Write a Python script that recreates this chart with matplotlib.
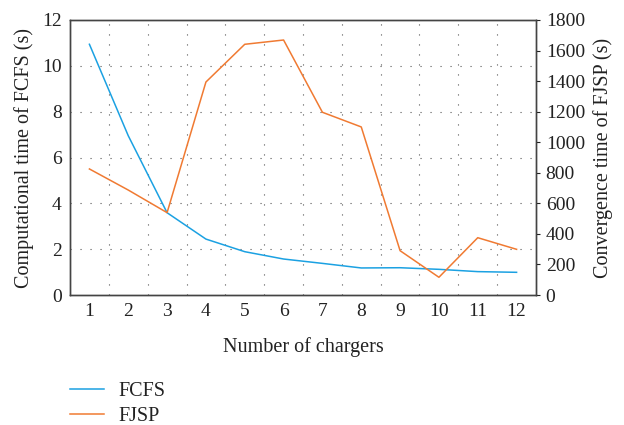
import matplotlib.pyplot as plt
import numpy as np

plt.rcParams['font.family'] = ['Liberation Serif', 'DejaVu Serif']

chargers = [1, 2, 3, 4, 5, 6, 7, 8, 9, 10, 11, 12]
fcfs = [10.94, 6.95, 3.59, 2.44, 1.89, 1.57, 1.38, 1.18, 1.19, 1.12, 1.02, 0.99]
fjsp = [825, 687, 539, 1394, 1641, 1669, 1196, 1100, 290, 116, 375, 299]

blue = '#1ba1e2'
orange = '#f07a32'

fig = plt.figure(figsize=(6.24, 4.25), dpi=100)
ax = fig.add_axes([70 / 624, 1 - 295 / 425, 466 / 624, 275 / 425])
ax2 = ax.twinx()

l1, = ax.plot(chargers, fcfs, color=blue, lw=1.1, label='FCFS')
l2, = ax2.plot(chargers, fjsp, color=orange, lw=1.1, label='FJSP')

ax.set_xlim(0.5, 12.5)
ax.set_ylim(0, 12)
ax2.set_ylim(0, 1800)
ax.set_xticks(chargers)
ax.set_yticks(np.arange(0, 13, 2))
ax2.set_yticks(np.arange(0, 1801, 200))

# dotted grid: vertical lines between the categories
for x in np.arange(1.5, 12, 1):
    ax.axvline(x, color='#555555', lw=0.8, ls=(0, (1, 8)), zorder=0)
for y in range(2, 12, 2):
    ax.axhline(y, color='#555555', lw=0.8, ls=(0, (1, 8)), zorder=0)

ax.tick_params(axis='both', length=0, labelsize=14, pad=6, colors='#222222')
ax2.tick_params(axis='y', length=3, width=0.8, labelsize=14, pad=4, colors='#222222')
for a in (ax, ax2):
    for s in a.spines.values():
        s.set_color('#444444')
        s.set_linewidth(1.0)

ax.set_xlabel('Number of chargers', fontsize=14.5, labelpad=12, color='#222222')
ax.set_ylabel('Computational time of FCFS (s)', fontsize=14.5, labelpad=6, color='#222222')
ax2.set_ylabel('Convergence time of FJSP (s)', fontsize=14.5, labelpad=6, color='#222222')

fig.legend(handles=[l1, l2], loc='upper left', bbox_to_anchor=(54 / 624, 1 - 366 / 425),
           frameon=False, fontsize=14.5, handlelength=1.7, handletextpad=0.7,
           labelspacing=0.3, borderpad=0.3, labelcolor='#222222')

fig.savefig('out.png', dpi=100)
